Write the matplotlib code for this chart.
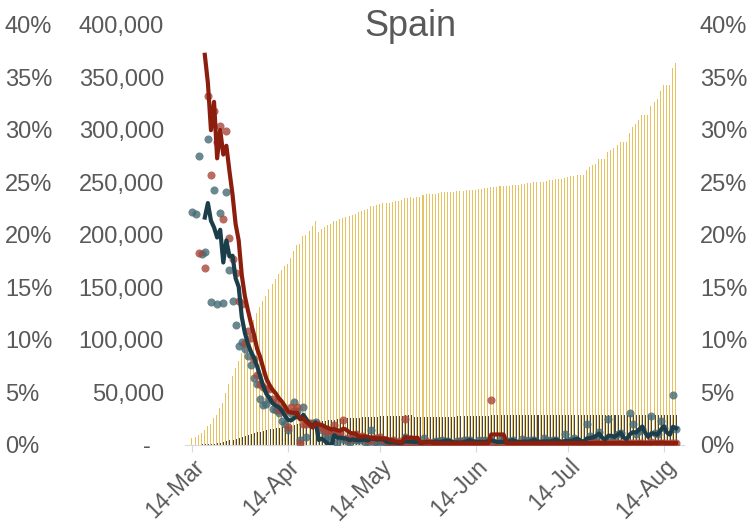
# Spain: cumulative cases / deaths (bars) and daily growth rates (dots + 5 day moving average)
import pandas as pd
import matplotlib
matplotlib.use('Agg')
import matplotlib.pyplot as plt
import matplotlib.dates as mdates
from matplotlib.ticker import FuncFormatter

plt.rcParams['font.family'] = ['Liberation Sans', 'DejaVu Sans']

# cumulative confirmed cases, one value per day from 14-Mar
cases = [6391, 7798, 9942, 11748, 13910, 17963, 20410, 25374, 28768, 35136,
         39885, 49515, 57786, 65719, 73235, 80110, 87956, 95923, 104118, 112065,
         119199, 126168, 131646, 136675, 141942, 148220, 153222, 158273, 163027, 166831,
         170099, 172541, 177644, 184948, 190839, 191726, 198674, 200210, 204178, 208389,
         213024, 202990, 205905, 207634, 209465, 210773, 212917, 213435, 215216, 216582,
         217466, 218011, 219329, 220325, 221447, 222857, 223578, 224350, 227436, 228030,
         228691, 229540, 230183, 230698, 230698, 231606, 232037, 232555, 233037, 234824,
         235290, 235772, 235400, 236259, 236259, 237906, 238564, 238564, 239228, 239479,
         239638, 240660, 240978, 241310, 241310, 241310, 241550, 241717, 242280, 242707,
         243209, 243209, 243209, 243605, 243928, 244328, 244683, 245268, 245268, 245268,
         246272, 246504, 246752, 247086, 247486, 247486, 247486, 248469, 248970, 249271,
         249659, 250103, 250103, 250103, 250545, 251789, 252130, 252513, 253056, 253056,
         253056, 253908, 254801, 255953, 256619, 257494, 257494, 257494, 262000, 264500,
         266200, 268000, 272400, 272400, 272400, 278800, 280600, 282600, 285400, 288500,
         288500, 288500, 297050, 302800, 305800, 309900, 314400, 314400, 314400, 323000,
         326600, 329800, 337300, 342800, 342800, 342800, 359100, 364200]

# cumulative deaths
deaths = [195, 289, 342, 533, 623, 830, 1043, 1375, 1772, 2311,
          2808, 3647, 4365, 5138, 5982, 6803, 7716, 8464, 9387, 10348,
          11198, 11947, 12641, 13341, 14045, 14792, 15447, 16081, 16606, 17209,
          17756, 18056, 18708, 19315, 20002, 20043, 20453, 20852, 21282, 21717,
          22157, 22524, 22902, 23190, 23521, 23822, 24275, 24543, 24824, 25100,
          25264, 25428, 25613, 25857, 26070, 26299, 26478, 26621, 26744, 26920,
          27104, 27321, 27459, 27563, 27563, 27709, 27778, 27888, 27940, 28628,
          28678, 28752, 26834, 27117, 27117, 27119, 27121, 27125, 27127, 27127,
          27127, 27128, 27133, 27133, 27133, 27133, 27135, 27136, 27136, 27136,
          27136, 27136, 27136, 27136, 27136, 27136, 27136, 28315, 28315, 28315,
          28323, 28324, 28325, 28327, 28330, 28330, 28330, 28341, 28346, 28355,
          28363, 28368, 28368, 28368, 28385, 28388, 28392, 28396, 28401, 28401,
          28401, 28403, 28406, 28409, 28413, 28416, 28416, 28416, 28420, 28422,
          28424, 28426, 28428, 28428, 28428, 28432, 28436, 28441, 28443, 28445,
          28445, 28445, 28472, 28498, 28499, 28500, 28503, 28503, 28503, 28576,
          28579, 28581, 28605, 28617, 28617, 28617, 28640, 28646]

# daily growth of cases, %
case_growth = [22.2, 22.0, 27.5, 18.2, 18.4, 29.1, 13.6, 24.3, 13.4, 22.1,
               13.5, 24.1, 16.7, 13.7, 11.4, 9.4, 9.8, 9.1, 8.5, 7.6,
               6.4, 5.8, 4.4, 3.8, 3.9, 4.4, 3.4, 3.3, 3.0, 2.3,
               2.0, 1.4, 3.0, 4.1, 3.2, 0.5, 3.6, 0.8, 2.0, 2.1,
               2.2, -4.7, 1.4, 0.8, 0.9, 0.6, 1.0, 0.2, 0.8, 0.6,
               0.4, 0.3, 0.6, 0.5, 0.5, 0.6, 0.3, 0.3, 1.4, 0.3,
               0.3, 0.4, 0.3, 0.2, 0.0, 0.4, 0.2, 0.2, 0.2, 0.8,
               0.2, 0.2, 0.0, 0.4, 0.0, 0.7, 0.3, 0.0, 0.3, 0.4,
               0.4, 0.5, 0.4, 0.4, 0.0, 0.0, 0.4, 0.4, 0.5, 0.5,
               0.5, 0.0, 0.0, 0.5, 0.4, 0.5, 0.4, 0.5, 0.0, 0.0,
               0.6, 0.4, 0.4, 0.4, 0.5, 0.0, 0.0, 0.6, 0.5, 0.4,
               0.5, 0.5, 0.0, 0.0, 0.7, 0.5, 0.4, 0.5, 0.5, 0.0,
               0.0, 1.0, 0.4, 0.5, 0.7, 0.4, 0.0, 0.0, 2.0, 0.9,
               0.7, 0.7, 1.2, 0.0, 0.0, 2.5, 0.7, 0.7, 1.0, 1.1,
               0.0, 0.0, 3.0, 2.0, 1.0, 1.3, 1.5, 0.0, 0.0, 2.8,
               1.1, 1.0, 2.3, 1.6, 0.0, 0.0, 4.8, 1.5]

# daily growth of deaths, %
death_growth = [46.6, 48.2, 18.3, 55.8, 16.9, 33.2, 25.7, 31.8, 28.9, 30.4,
                21.5, 29.9, 19.7, 17.7, 16.4, 13.7, 13.4, 9.7, 10.9, 10.2,
                8.2, 6.7, 5.8, 5.5, 5.3, 5.3, 4.4, 4.1, 3.3, 3.6,
                3.2, 1.7, 3.6, 3.2, 3.6, 0.2, 2.0, 2.0, 2.1, 2.0,
                2.0, 1.7, 1.7, 1.3, 1.4, 1.3, 1.9, 1.1, 1.1, 2.4,
                0.7, 0.6, 0.7, 1.0, 0.8, 0.9, 0.7, 0.5, 0.5, 0.7,
                0.7, 0.8, 0.5, 0.4, 0.0, 0.5, 0.2, 0.4, 0.2, 2.5,
                0.2, 0.3, 0.1, 0.4, 0.2, 0.2, 0.3, 0.2, 0.1, 0.2,
                0.2, 0.1, 0.2, 0.2, 0.2, 0.1, 0.2, 0.2, 0.2, 0.1,
                0.2, 0.2, 0.1, 0.2, 0.2, 0.2, 0.1, 4.3, 0.2, 0.2,
                0.2, 0.1, 0.2, 0.2, 0.2, 0.1, 0.2, 0.2, 0.2, 0.2,
                0.2, 0.2, 0.1, 0.2, 0.2, 0.2, 0.2, 0.2, 0.2, 0.1,
                0.2, 0.2, 0.2, 0.2, 0.2, 0.2, 0.1, 0.2, 0.2, 0.2,
                0.2, 0.2, 0.2, 0.1, 0.2, 0.2, 0.2, 0.2, 0.2, 0.2,
                0.1, 0.2, 0.2, 0.2, 0.2, 0.2, 0.2, 0.1, 0.2, 0.3,
                0.2, 0.2, 0.2, 0.2, 0.1, 0.2, 0.2, 0.2]

dates = pd.date_range('2020-03-14', periods=len(cases), freq='D')
month_ticks = [pd.Timestamp(2020, m, 14) for m in range(3, 9)]

# 5 point moving-average trendlines of the growth dots
case_ma = pd.Series(case_growth).rolling(5).mean()
death_ma = pd.Series(death_growth).rolling(5).mean()

grey = '#595959'
fig = plt.figure(figsize=(7.53, 5.25), dpi=100)
ax = fig.add_axes([0.2454, 0.1524, 0.6627, 0.8])

# bars: cases and deaths side by side for every day
half = pd.Timedelta(hours=4)
ax.bar(dates - half, cases, width=0.33, color='#E8C25E', linewidth=0)
ax.bar(dates + half, deaths, width=0.33, color='#454545', linewidth=0)
ax.set_ylim(0, 400000)
ax.set_yticks(range(0, 400001, 50000))
ax.yaxis.set_major_formatter(FuncFormatter(lambda v, p: f'{v:,.0f}' if v else '-  '))
ax.tick_params(axis='y', length=0, pad=15, labelsize=17, labelcolor=grey)
ax.set_xlim(dates[0] - pd.Timedelta(hours=60), dates[0] + pd.Timedelta(hours=24 * 159.5))
ax.set_xticks(month_ticks)
ax.xaxis.set_major_formatter(mdates.DateFormatter('%d-%b'))
ax.tick_params(axis='x', length=5, color='#d9d9d9', pad=2, labelsize=16.5, labelcolor=grey)
for lab in ax.get_xticklabels():
    lab.set_rotation(45)
    lab.set_ha('right')
    lab.set_rotation_mode('anchor')
for s in ['top', 'left', 'right']:
    ax.spines[s].set_visible(False)
ax.spines['bottom'].set_color('#d9d9d9')

# growth rates on the right hand axis
ax2 = ax.twinx()
ax2.scatter(dates, case_growth, s=34, color='#456A75', alpha=0.8, linewidths=0)
ax2.scatter(dates, death_growth, s=34, color='#A8473A', alpha=0.8, linewidths=0)
ax2.plot(dates, case_ma, color='#1B3E4A', lw=3)
ax2.plot(dates, death_ma, color='#8B1E0C', lw=3)
ax2.set_ylim(0, 40)
ax2.set_yticks(range(0, 41, 5))
ax2.yaxis.set_major_formatter(FuncFormatter(lambda v, p: f'{v:.0f}%'))
ax2.tick_params(axis='y', length=0, pad=11.5, labelsize=17, labelcolor=grey)
for s in ax2.spines.values():
    s.set_visible(False)

# same percent scale repeated on the far left
ax3 = ax.twinx()
ax3.set_ylim(0, 40)
ax3.set_yticks(range(0, 41, 5))
ax3.yaxis.set_major_formatter(FuncFormatter(lambda v, p: f'{v:.0f}%'))
ax3.tick_params(axis='y', left=True, right=False, labelleft=True, labelright=False,
                length=0, pad=129.5, labelsize=17, labelcolor=grey)
plt.setp(ax3.get_yticklabels(), ha='left')
for s in ax3.spines.values():
    s.set_visible(False)

fig.text(410 / 753, 1 - 26 / 525, 'Spain', ha='center', va='center', fontsize=26, color=grey)

fig.savefig('out.png', dpi=100)
